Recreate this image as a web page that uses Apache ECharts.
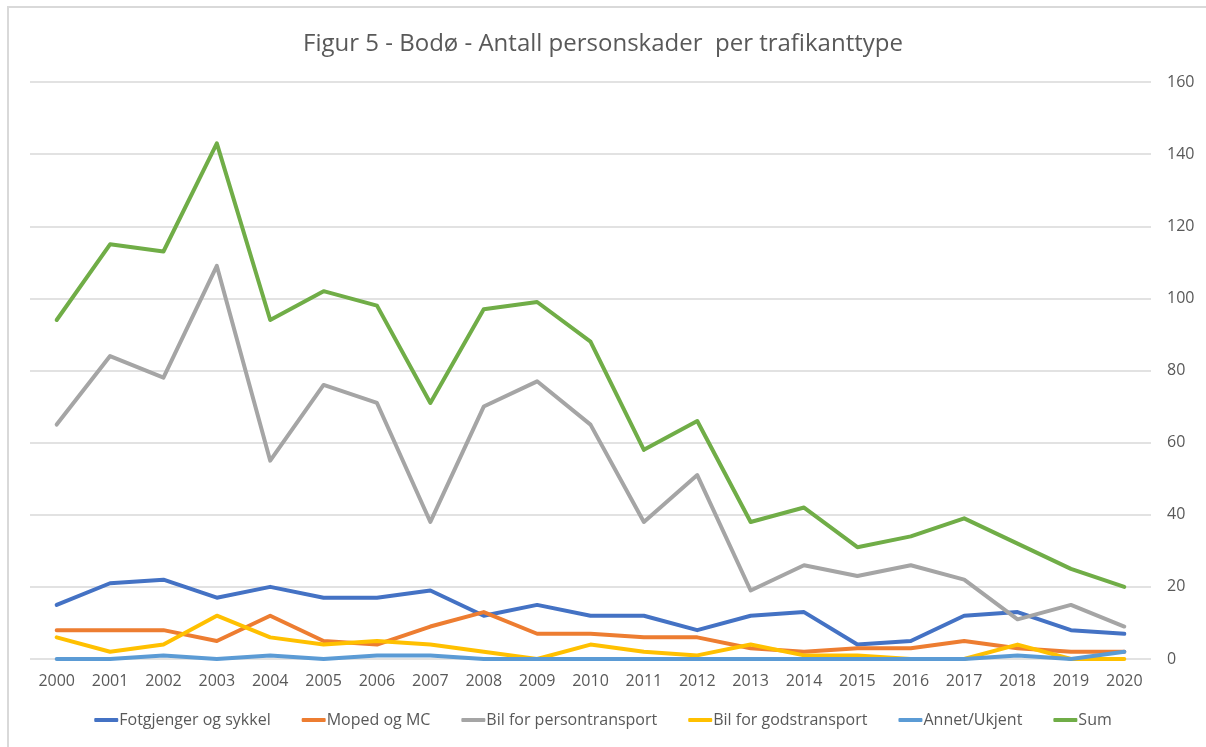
<!DOCTYPE html>
<html>
<head>
<meta charset="utf-8">
<script src="https://cdn.jsdelivr.net/npm/echarts@6/dist/echarts.min.js"></script>
<style>
  html, body { margin: 0; padding: 0; background: #fff; }
  #frame { position: absolute; left: 7px; top: 6px; width: 1300px; height: 800px;
           border-top: 2px solid #d9d9d9; border-left: 2px solid #d9d9d9; }
  #chart { position: absolute; left: 0; top: 0; width: 1206px; height: 747px; }
</style>
</head>
<body>
<div id="frame"></div>
<div id="chart"></div>
<script>
const years = ['2000', '2001', '2002', '2003', '2004', '2005', '2006', '2007', '2008', '2009', '2010',
  '2011', '2012', '2013', '2014', '2015', '2016', '2017', '2018', '2019', '2020']

const fotgjenger = [15, 21, 22, 17, 20, 17, 17, 19, 12, 15, 12, 12, 8, 12, 13, 4, 5, 12, 13, 8, 7]
const moped = [8, 8, 8, 5, 12, 5, 4, 9, 13, 7, 7, 6, 6, 3, 2, 3, 3, 5, 3, 2, 2]
const personBil = [65, 84, 78, 109, 55, 76, 71, 38, 70, 77, 65, 38, 51, 19, 26, 23, 26, 22, 11, 15, 9]
const godsBil = [6, 2, 4, 12, 6, 4, 5, 4, 2, 0, 4, 2, 1, 4, 1, 1, 0, 0, 4, 0, 0]
const annet = [0, 0, 1, 0, 1, 0, 1, 1, 0, 0, 0, 0, 0, 0, 0, 0, 0, 0, 1, 0, 2]
const sum = [94, 115, 113, 143, 94, 102, 98, 71, 97, 99, 88, 58, 66, 38, 42, 31, 34, 39, 32, 25, 20]

const seriesDefs = [
  { name: 'Fotgjenger og sykkel', data: fotgjenger, color: '#4472C4' },
  { name: 'Moped og MC', data: moped, color: '#ED7D31' },
  { name: 'Bil for persontransport', data: personBil, color: '#A5A5A5' },
  { name: 'Bil for godstransport', data: godsBil, color: '#FFC000' },
  { name: 'Annet/Ukjent', data: annet, color: '#5B9BD5' },
  { name: 'Sum', data: sum, color: '#70AD47' },
]

const font = '"Liberation Sans Narrow", "Open Sans", sans-serif'
const chart = echarts.init(document.getElementById('chart'))

chart.setOption({
  animation: false,
  backgroundColor: 'transparent',
  title: {
    text: 'Figur 5 - Bodø - Antall personskader  per trafikanttype',
    left: 'center',
    top: 27,
    textStyle: { fontFamily: font, fontSize: 24, fontWeight: 'normal', color: '#595959' },
  },
  legend: {
    bottom: 14,
    left: 'center',
    itemWidth: 24,
    itemHeight: 4,
    itemGap: 31,
    icon: 'roundRect',
    textStyle: { fontFamily: font, fontSize: 16, color: '#595959', padding: [0, 0, 0, -4] },
    data: seriesDefs.map((s) => s.name),
  },
  grid: { left: 30, right: 55, top: 82, bottom: 88 },
  xAxis: {
    type: 'category',
    boundaryGap: true,
    data: years,
    axisLine: { show: false },
    axisTick: { show: false },
    axisLabel: { fontFamily: font, fontSize: 16, color: '#595959', margin: 14 },
  },
  yAxis: {
    type: 'value',
    position: 'right',
    min: 0,
    max: 160,
    interval: 20,
    axisLine: { show: false },
    axisTick: { show: false },
    axisLabel: { fontFamily: font, fontSize: 16, color: '#595959', margin: 16 },
    splitLine: { lineStyle: { color: '#d9d9d9', width: 1.5 } },
  },
  series: seriesDefs.map((s) => ({
    name: s.name,
    type: 'line',
    data: s.data,
    symbol: 'none',
    color: s.color,
    lineStyle: { width: 4, color: s.color, cap: 'round', join: 'round' },
  })),
})
</script>
</body>
</html>
